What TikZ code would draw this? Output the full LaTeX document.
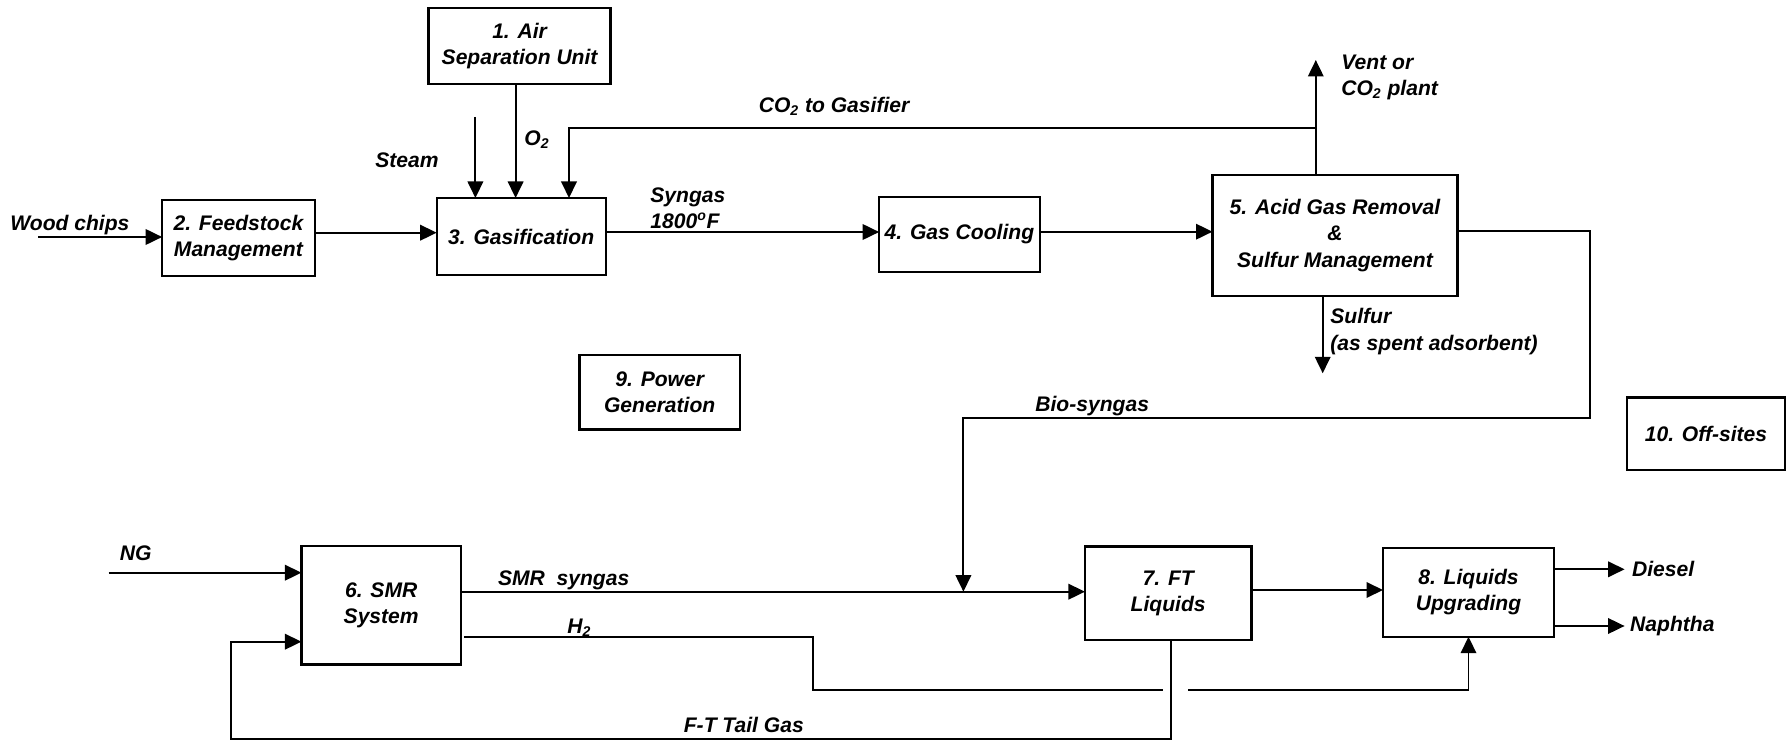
\documentclass[tikz,border=0pt]{standalone}
\usepackage{fontspec}
\setmainfont{Liberation Sans}
\usetikzlibrary{arrows.meta}
\newcommand{\pfdfont}{\fontsize{12}{15}\selectfont\bfseries\itshape}
\tikzset{
  unit/.style = {rectangle, draw, line width=1.3pt, align=center, font=\pfdfont,
                 inner sep=0pt, outer sep=0pt},
  lbl/.style  = {font=\pfdfont, inner sep=0pt, anchor=west, align=left},
  flow/.style = {-{Triangle[length=3.3mm, width=3.1mm]}, line width=1.1pt},
  pipe/.style = {line width=1.1pt},
}

\begin{document}
\begin{tikzpicture}[x=0.2mm, y=-0.2mm]
  \useasboundingbox (0,0) rectangle (1787,740);
  % process units
  \node[unit, minimum width=36.4mm, minimum height=15.2mm] (asu)   at (519.6,46)    {1. Air\\Separation Unit};
  \node[unit, minimum width=30.5mm, minimum height=15.2mm] (feed)  at (238.4,238)   {2. Feedstock\\Management};
  \node[unit, minimum width=33.8mm, minimum height=15.4mm] (gasif) at (521.2,236.5) {3. Gasification};
  \node[unit, minimum width=32.1mm, minimum height=15mm]   (cool)  at (959.4,234.2) {4. Gas Cooling};
  \node[unit, minimum width=49mm,   minimum height=24.2mm] (agr)   at (1335,235.5)  {5. Acid Gas Removal\\\&\\Sulfur Management};
  \node[unit, minimum width=31.9mm, minimum height=23.7mm] (smr)   at (381.2,605.2) {6. SMR\\System};
  \node[unit, minimum width=33.3mm, minimum height=18.7mm] (ft)    at (1168.2,593.3){7. FT\\Liquids};
  \node[unit, minimum width=34.2mm, minimum height=17.8mm] (upg)   at (1468.5,592.2){8. Liquids\\Upgrading};
  \node[unit, minimum width=32.1mm, minimum height=14.9mm] (power) at (659.7,392.2) {9. Power\\Generation};
  \node[unit, minimum width=31.6mm, minimum height=14.5mm] (offs)  at (1706,433.7)  {10. Off-sites};

  % free ends and bends
  \coordinate (wood)   at (38,237);
  \coordinate (steam)  at (475.4,117);
  \coordinate (vent)   at (1315.8,60);
  \coordinate (co2j)   at (1315.8,127.7);
  \coordinate (co2in)  at (569,127.7);
  \coordinate (sulfur) at (1322.7,373.3);
  \coordinate (bioA)   at (1590,230.7);
  \coordinate (bioB)   at (1590,418.3);
  \coordinate (bioC)   at (963.4,418.3);
  \coordinate (bioD)   at (963.4,591.7);
  \coordinate (ng)     at (108.5,572.7);
  \coordinate (h2a)    at (464,637.3);
  \coordinate (h2b)    at (813,690);
  \coordinate (h2c)    at (1162.5,690);
  \coordinate (h2d)    at (1188,690);
  \coordinate (tailA)  at (1171.4,739);
  \coordinate (tailB)  at (230.8,739);
  \coordinate (tailC)  at (230.8,641.7);
  \coordinate (diesel) at (1624.6,569.3);
  \coordinate (naph)   at (1624.6,626);

  % streams
  \draw[flow] (wood) -- (wood -| feed.west);
  \draw[flow] (feed.east |- 0,232.7) -- (gasif.west |- 0,232.7);
  \draw[flow] (steam) -- (steam |- gasif.north);
  \draw[flow] (asu.south -| 515.6,0) -- (gasif.north -| 515.6,0);
  \draw[flow] (agr.north -| vent) -- (vent);
  \draw[flow] (co2j) -- (co2in) -- (co2in |- gasif.north);
  \draw[flow] (gasif.east |- 0,232) -- (cool.west |- 0,232);
  \draw[flow] (cool.east |- 0,231.7) -- (agr.west |- 0,231.7);
  \draw[flow] (agr.south -| sulfur) -- (sulfur);
  \draw[flow] (agr.east |- bioA) -- (bioA) -- (bioB) -- (bioC) -- (bioD);
  \draw[flow] (ng) -- (ng -| smr.west);
  \draw[flow] (smr.east |- bioD) -- (ft.west |- bioD);
  \draw[pipe] (h2a) -| (h2b) -- (h2c);
  \draw[flow] (h2d) -| (upg.south);
  \draw[flow] (ft.east |- 0,590) -- (upg.west |- 0,590);
  \draw[flow] (ft.south -| tailA) -- (tailA) -- (tailB) -- (tailC) -- (tailC -| smr.west);
  \draw[flow] (upg.east |- diesel) -- (diesel);
  \draw[flow] (upg.east |- naph) -- (naph);

  % stream labels
  \node[lbl] (lwood)   at (10,225)      {Wood chips};
  \node[lbl] (lsteam)  at (375,160)     {Steam};
  \node[lbl] (lo2)     at (524,140)     {O\textsubscript{2}};
  \node[lbl] (lco2)    at (758.5,106.7) {CO\textsubscript{2} to Gasifier};
  \node[lbl] (lvent)   at (1341,77.5)   {Vent or\\CO\textsubscript{2} plant};
  \node[lbl] (lsyn)    at (650,208)     {Syngas\\1800\textsuperscript{o}F};
  \node[lbl] (lsulf)   at (1330,331.5)  {Sulfur\\(as spent adsorbent)};
  \node[lbl] (lbio)    at (1035,406)    {Bio-syngas};
  \node[lbl] (lng)     at (119.6,553)   {NG};
  \node[lbl] (lsmr)    at (497.7,580)   {SMR\ \ syngas};
  \node[lbl] (lh2)     at (567,628)     {H\textsubscript{2}};
  \node[lbl] (ltail)   at (683.5,725)   {F-T Tail Gas};
  \node[lbl] (ldiesel) at (1631.7,569.3){Diesel};
  \node[lbl] (lnaph)   at (1629.8,626)  {Naphtha};
\end{tikzpicture}
\end{document}
